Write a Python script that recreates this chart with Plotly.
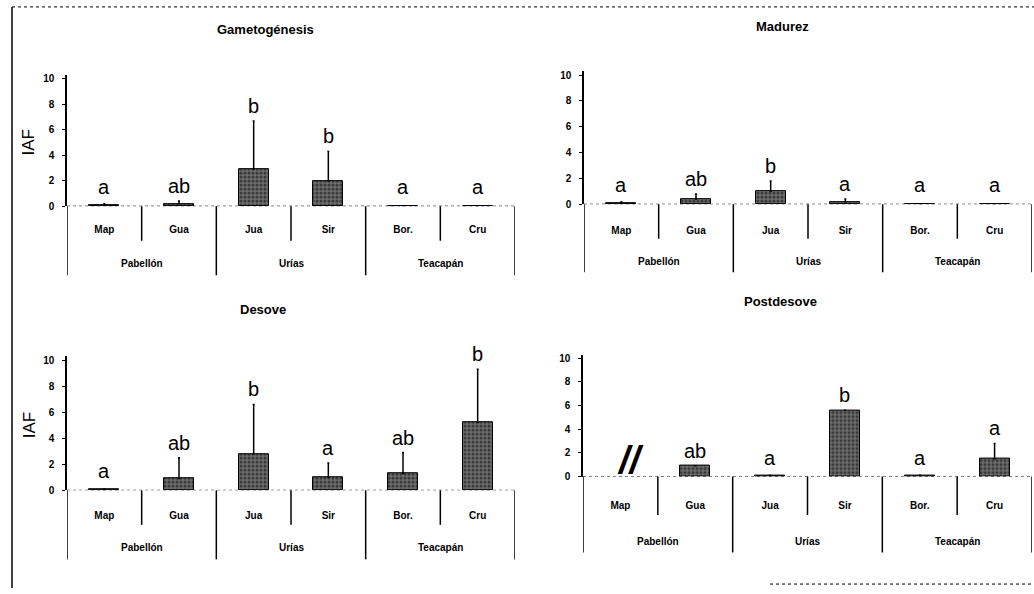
import plotly.graph_objects as go
import numpy as np

# ---------------- data ----------------
categories = ["Map", "Gua", "Jua", "Sir", "Bor.", "Cru"]
groups = ["Pabellón", "Urías", "Teacapán"]
y_ticks = [0, 2, 4, 6, 8, 10]
titles = ["Gametogénesis", "Madurez", "Desove", "Postdesove"]

gam_mean = [0.1, 0.2, 2.9, 2.0, 0.0, 0.0]
gam_sd = [0.1, 0.2, 3.8, 2.3, 0.0, 0.0]
gam_letters = ["a", "ab", "b", "b", "a", "a"]

mad_mean = [0.05, 0.4, 1.0, 0.2, 0.0, 0.0]
mad_sd = [0.15, 0.4, 0.8, 0.2, 0.0, 0.0]
mad_letters = ["a", "ab", "b", "a", "a", "a"]

des_mean = [0.05, 0.9, 2.8, 1.0, 1.3, 5.2]
des_sd = [0.05, 1.6, 3.8, 1.1, 1.6, 4.1]
des_letters = ["a", "ab", "b", "a", "ab", "b"]

pos_mean = [None, 0.9, 0.1, 5.6, 0.1, 1.5]
pos_sd = [None, 0.0, 0.0, 0.0, 0.0, 1.3]
pos_letters = ["", "ab", "a", "b", "a", "a"]

series = [
    (gam_mean, gam_sd, gam_letters),
    (mad_mean, mad_sd, mad_letters),
    (des_mean, des_sd, des_letters),
    (pos_mean, pos_sd, pos_letters),
]

# ---------------- layout geometry (pixels) ----------------
W, H = 1034, 594
geo = [
    dict(x0=67, x1=515, y0=207, y10=78, cat=229, grp=265, inner=242, outer=277, tx=265, ty=28),
    dict(x0=584, x1=1032, y0=205, y10=74, cat=230, grp=263, inner=240, outer=274, tx=782, ty=25),
    dict(x0=67, x1=515, y0=495, y10=363, cat=519, grp=553, inner=530, outer=565, tx=263, ty=312),
    dict(x0=583, x1=1032, y0=481, y10=361, cat=508, grp=547, inner=520, outer=558, tx=780, ty=304),
]
YMAX = 10.3
FONT = "Liberation Sans"

fig = go.Figure()
layout = dict(
    width=W, height=H, margin=dict(l=0, r=0, t=0, b=0),
    paper_bgcolor="white", plot_bgcolor="white", showlegend=False,
    font=dict(family=FONT, color="black"),
)
shapes = []
annotations = []

ncat = len(categories)
centers = np.arange(ncat) + 0.5

for k, (g, (mean, sd, letters), title) in enumerate(zip(geo, series, titles)):
    idx = "" if k == 0 else str(k + 1)
    xa, ya = "x" + idx, "y" + idx
    pxu = (g["y0"] - g["y10"]) / 10.0
    top_px = g["y0"] - YMAX * pxu
    dom_h = g["y0"] - top_px

    def frac(px):
        return -(px - g["y0"]) / dom_h

    layout["xaxis" + idx] = dict(
        domain=[g["x0"] / W, g["x1"] / W], range=[0, ncat], anchor=ya,
        showline=False, showgrid=False, zeroline=False, ticks="",
        tickvals=list(centers), ticktext=categories,
        tickfont=dict(size=10, family=FONT, weight="bold"),
        ticklabelstandoff=int(g["cat"] - g["y0"] - 6),
    )
    layout["yaxis" + idx] = dict(
        domain=[1 - g["y0"] / H, 1 - top_px / H], range=[0, YMAX], anchor=xa,
        showline=True, linecolor="black", linewidth=1.5, showgrid=False, zeroline=False,
        ticks="outside", ticklen=3, tickwidth=1, tickcolor="black",
        tickvals=y_ticks, ticktext=[str(v) for v in y_ticks],
        tickfont=dict(size=10, family=FONT, weight="bold"), ticklabelstandoff=6,
    )

    fig.add_trace(go.Bar(
        x=centers, y=mean, width=0.4, xaxis=xa, yaxis=ya,
        marker=dict(color="#707070", line=dict(color="black", width=1),
                    pattern=dict(shape=".", fgcolor="black", size=4, solidity=0.5)),
        error_y=dict(type="data", symmetric=False, array=sd,
                     arrayminus=[0 if v is not None else None for v in sd],
                     color="black", thickness=1.5, width=1),
    ))

    # dotted baseline
    shapes.append(dict(type="line", xref=xa, yref=ya, x0=0, x1=ncat, y0=0, y1=0,
                       line=dict(color="black", width=1, dash="dot")))
    # separators
    for b in range(0, ncat + 1, 2):
        shapes.append(dict(type="line", xref=xa, yref=ya + " domain", x0=b, x1=b,
                           y0=0, y1=frac(g["outer"]), line=dict(color="black", width=1.5)))
    for b in range(1, ncat, 2):
        shapes.append(dict(type="line", xref=xa, yref=ya + " domain", x0=b, x1=b,
                           y0=0, y1=frac(g["inner"]), line=dict(color="black", width=1.5)))
    # group labels
    for gi, gname in enumerate(groups):
        annotations.append(dict(xref=xa, yref=ya + " domain", x=2 * gi + 1, y=frac(g["grp"]),
                                text="<b>%s</b>" % gname, showarrow=False,
                                font=dict(size=10, family=FONT), xanchor="center", yanchor="middle"))
    # significance letters
    for i, lt in enumerate(letters):
        if not lt:
            continue
        m = mean[i] or 0
        s = sd[i] or 0
        annotations.append(dict(xref=xa, yref=ya, x=centers[i], y=max(m + s, 0.3), text=lt,
                                showarrow=False, xanchor="center", yanchor="bottom", yshift=2,
                                font=dict(size=20, family=FONT)))
    # titles
    annotations.append(dict(xref="paper", yref="paper", x=g["tx"] / W, y=1 - g["ty"] / H,
                            text="<b>%s</b>" % title, showarrow=False,
                            xanchor="center", yanchor="middle",
                            font=dict(size=13, family=FONT)))
    if k in (0, 2):
        annotations.append(dict(xref="paper", yref="paper", x=29 / W,
                                y=1 - (g["y0"] - 5 * pxu) / H, text="IAF", textangle=-90,
                                showarrow=False, xanchor="center", yanchor="middle",
                                font=dict(size=17, family=FONT)))

# missing-data mark in Postdesove (Map)
annotations.append(dict(xref="x4", yref="y4", x=centers[0], y=0, text="<b><i>//</i></b>",
                        showarrow=False, xanchor="center", yanchor="bottom", xshift=10, yshift=-6,
                        font=dict(size=38, family=FONT)))

# outer frame of the scanned figure
shapes.append(dict(type="line", xref="paper", yref="paper", x0=12 / W, x1=12 / W, y0=0, y1=1 - 5 / H,
                   line=dict(color="black", width=1.5)))
shapes.append(dict(type="line", xref="paper", yref="paper", x0=12 / W, x1=1, y0=1 - 5 / H, y1=1 - 5 / H,
                   line=dict(color="black", width=1, dash="dot")))
shapes.append(dict(type="line", xref="paper", yref="paper", x0=770 / W, x1=1, y0=1 - 590 / H, y1=1 - 590 / H,
                   line=dict(color="black", width=1, dash="dot")))

layout["shapes"] = shapes
layout["annotations"] = annotations
layout["bargap"] = 0
fig.update_layout(**layout)
fig.write_html("out.html")
